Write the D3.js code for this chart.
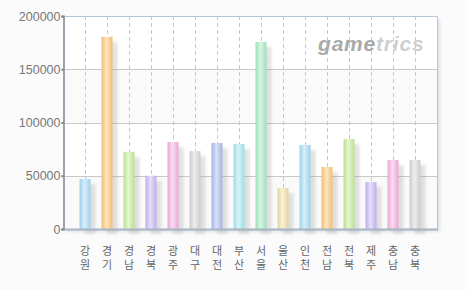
<!DOCTYPE html>
<html>
<head>
<meta charset="utf-8">
<script src="https://cdn.jsdelivr.net/npm/d3@7"></script>
<style>
  body { margin: 0; background: #fbfbfb; }
  svg { display: block; }
</style>
</head>
<body>
<script>
const regions = ["강원", "경기", "경남", "경북", "광주", "대구", "대전", "부산",
                 "서울", "울산", "인천", "전남", "전북", "제주", "충남", "충북"];
const players = [47000, 180500, 72500, 50000, 81700, 73200, 80800, 79800,
                 175600, 38500, 78900, 58200, 84500, 44100, 64800, 64800];
const yTicks = [0, 50000, 100000, 150000, 200000];
const barColors = ["#a6dcf6", "#ffc878", "#c6ec98", "#c8b6f6", "#f8b0e2",
                   "#d6d6d6", "#afbbf2", "#a6e8ee", "#a6ecc2", "#f0e0a6"];

const width = 468, height = 290;
const pLeft = 63, pRight = 437, pTop = 16, pBottom = 229;

const svg = d3.select("body").append("svg")
    .attr("width", width)
    .attr("height", height);

const defs = svg.append("defs");

// cylinder style gradient for each colour
barColors.forEach((c, i) => {
  const g = defs.append("linearGradient")
      .attr("id", "bar" + i)
      .attr("x1", 0).attr("x2", 1).attr("y1", 0).attr("y2", 0);
  const dark = d3.color(c).darker(0.15);
  const light = d3.interpolateRgb(c, "#ffffff")(0.55);
  g.append("stop").attr("offset", "0%").attr("stop-color", dark);
  g.append("stop").attr("offset", "45%").attr("stop-color", light);
  g.append("stop").attr("offset", "100%").attr("stop-color", dark);
});

const blur = defs.append("filter").attr("id", "blur")
    .attr("x", "-50%").attr("y", "-50%").attr("width", "200%").attr("height", "200%");
blur.append("feGaussianBlur").attr("stdDeviation", 1.6);

const x = d3.scalePoint()
    .domain(regions)
    .range([pLeft, pRight])
    .padding(1);

const y = d3.scaleLinear()
    .domain([0, 200000])
    .range([pBottom, pTop]);

// plot box shadow
svg.append("rect")
    .attr("x", pLeft + 3).attr("y", pTop + 3)
    .attr("width", pRight - pLeft).attr("height", pBottom - pTop)
    .attr("fill", "#dde3ea")
    .attr("filter", "url(#blur)");

svg.append("rect")
    .attr("x", pLeft).attr("y", pTop)
    .attr("width", pRight - pLeft).attr("height", pBottom - pTop)
    .attr("fill", "#fff");

// alternating bands
svg.append("g").selectAll("rect")
  .data([[0, 50000], [100000, 150000]])
  .join("rect")
    .attr("x", pLeft).attr("width", pRight - pLeft)
    .attr("y", d => y(d[1])).attr("height", d => y(d[0]) - y(d[1]))
    .attr("fill", "#fafafa");

// grid
svg.append("g").selectAll("line")
  .data(yTicks.slice(1, -1))
  .join("line")
    .attr("x1", pLeft).attr("x2", pRight)
    .attr("y1", d => Math.round(y(d)) + 0.5).attr("y2", d => Math.round(y(d)) + 0.5)
    .attr("stroke", "#c8c8c8");

svg.append("g").selectAll("line")
  .data(regions)
  .join("line")
    .attr("x1", d => Math.round(x(d)) + 0.5).attr("x2", d => Math.round(x(d)) + 0.5)
    .attr("y1", pTop).attr("y2", pBottom)
    .attr("stroke", "#c8c8c8")
    .attr("stroke-dasharray", "4,3");

// watermark
const wm = svg.append("text")
    .attr("x", 318).attr("y", 51)
    .attr("font-family", "Liberation Sans, Arial, sans-serif")
    .attr("font-size", 21)
    .attr("font-weight", "bold")
    .attr("font-style", "italic")
    .attr("letter-spacing", 0.8);
wm.append("tspan").attr("fill", "#a9a9a9").text("game");
wm.append("tspan").attr("fill", "#cfcfcf").text("trics");

// bars
const barW = 11;
svg.append("g").selectAll("rect")
  .data(players)
  .join("rect")
    .attr("x", (d, i) => x(regions[i]) - barW / 2 + 5)
    .attr("y", d => y(d) + 5)
    .attr("width", barW)
    .attr("height", d => pBottom - y(d))
    .attr("fill", "#999")
    .attr("opacity", 0.28)
    .attr("filter", "url(#blur)");

svg.append("g").selectAll("rect")
  .data(players)
  .join("rect")
    .attr("x", (d, i) => x(regions[i]) - barW / 2)
    .attr("y", d => y(d))
    .attr("width", barW)
    .attr("height", d => pBottom - y(d))
    .attr("fill", (d, i) => `url(#bar${i % barColors.length})`);

// box borders
svg.append("path")
    .attr("d", `M${pLeft + 0.5},${pTop + 0.5}H${pRight + 0.5}V${pBottom + 0.5}`)
    .attr("fill", "none")
    .attr("stroke", "#b4c6da");
svg.append("line")
    .attr("x1", pLeft).attr("x2", pRight + 1)
    .attr("y1", pBottom + 0.5).attr("y2", pBottom + 0.5)
    .attr("stroke", "#a8b4c2").attr("stroke-width", 2);

// y axis
const yAxis = svg.append("g")
    .attr("transform", `translate(${pLeft + 0.5},0)`)
    .call(d3.axisLeft(y).tickValues(yTicks).tickSize(2).tickPadding(1).tickFormat(d3.format("d")));
yAxis.select(".domain").attr("stroke", "#9aa2ac").attr("stroke-width", 2);
yAxis.selectAll(".tick line").attr("stroke", "#777").attr("stroke-width", 2);
yAxis.selectAll("text")
    .attr("fill", "#777")
    .attr("font-family", "Liberation Sans, Arial, sans-serif")
    .attr("font-size", 12.5);

// category labels, stacked vertically (one syllable per row)
svg.append("g").selectAll("text")
  .data(regions)
  .join("text")
    .attr("x", d => x(d))
    .attr("y", 245)
    .attr("writing-mode", "vertical-rl")
    .attr("letter-spacing", 3)
    .attr("font-family", "Noto Sans CJK KR, sans-serif")
    .attr("font-size", 11)
    .attr("fill", "#666")
    .text(d => d);
</script>
</body>
</html>
